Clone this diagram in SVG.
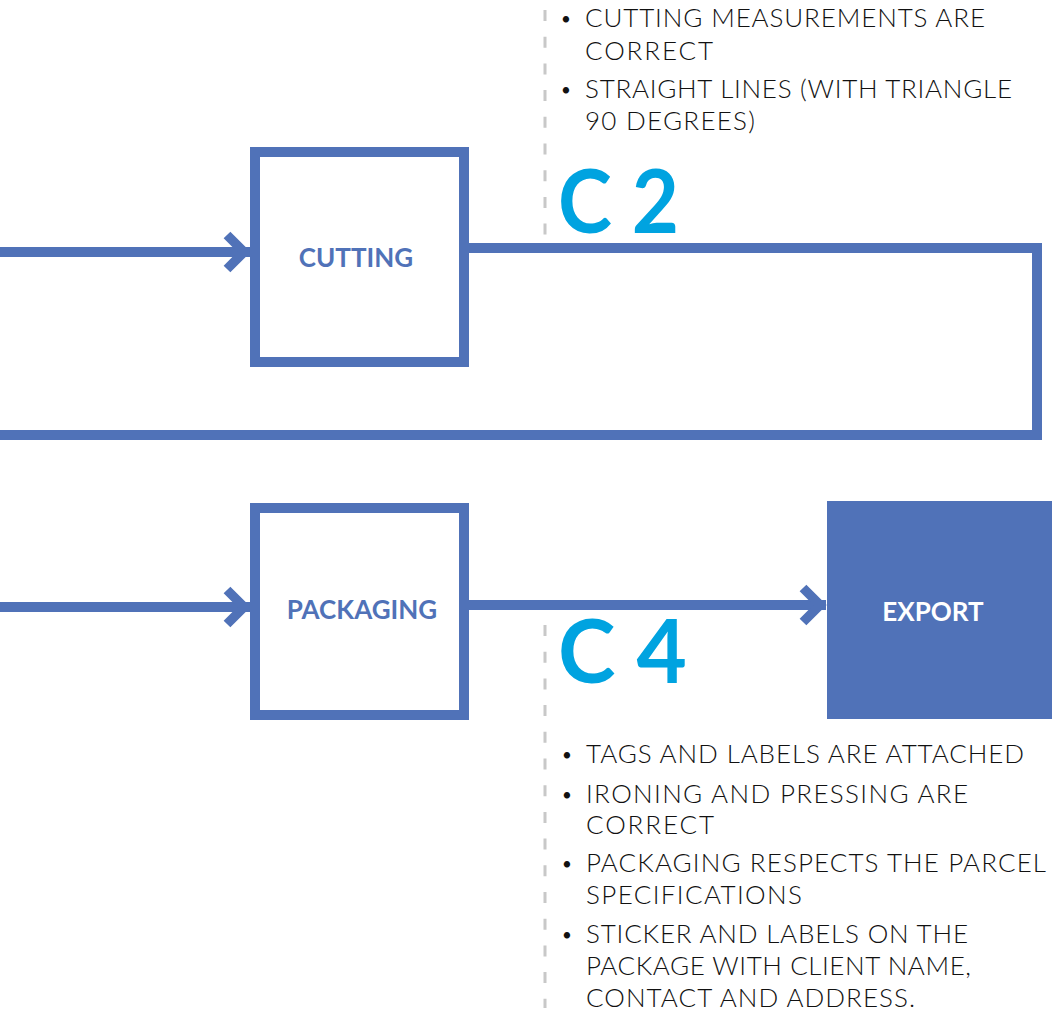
<svg xmlns="http://www.w3.org/2000/svg" width="1052" height="1012" viewBox="0 0 1052 1012">
<style>
.box{fill:#ffffff;stroke:#5072b8;stroke-width:10}
.fbox{fill:#5072b8}
.lbl{font-family:Lato,"Liberation Sans",sans-serif;font-weight:700;font-size:26px;fill:#5072b8;text-anchor:middle}
.lblw{font-family:Lato,"Liberation Sans",sans-serif;font-weight:700;font-size:26px;fill:#ffffff;text-anchor:middle}
.conn{fill:none;stroke:#5072b8;stroke-width:10;stroke-linejoin:miter}
.dash{fill:none;stroke:#c8c8c8;stroke-width:3;stroke-dasharray:11 15.7}
.code{font-family:Lato,"Liberation Sans",sans-serif;font-weight:700;font-size:88px;fill:#00a3e0}
.txt{font-family:Lato,"Liberation Sans",sans-serif;font-weight:300;font-size:26px;fill:#111111}
.bul{font-family:Lato,"Liberation Sans",sans-serif;font-weight:400;font-size:17px;fill:#111111}
</style>
<defs>
<marker id="chev" markerUnits="userSpaceOnUse" viewBox="-30 -25 35 50" refX="0" refY="0" markerWidth="35" markerHeight="50" orient="auto" overflow="visible">
<path d="M -23 -17 L -6 0 L -23 17" fill="none" stroke="#5072b8" stroke-width="9.5" stroke-linejoin="miter"/>
</marker>
</defs>

<g id="connectors">
<line class="conn" x1="0" y1="252" x2="250" y2="252" marker-end="url(#chev)"/>
<polyline class="conn" points="469,248 1037,248 1037,435 0,435"/>
<line class="conn" x1="0" y1="607" x2="250" y2="607" marker-end="url(#chev)"/>
<line class="conn" x1="469" y1="605" x2="826" y2="605" marker-end="url(#chev)"/>
</g>

<g id="cutting">
<rect class="box" x="255" y="152" width="209" height="210"/>
<text class="lbl" x="356" y="267">CUTTING</text>
</g>

<g id="packaging">
<rect class="box" x="255" y="508" width="209" height="207"/>
<text class="lbl" x="362" y="619">PACKAGING</text>
</g>

<g id="export">
<rect class="fbox" x="827" y="501" width="225" height="218"/>
<text class="lblw" x="933" y="621">EXPORT</text>
</g>

<g id="c2">
<line class="dash" x1="545" y1="10" x2="545" y2="235"/>
<text class="code" x="558" y="233" textLength="121" lengthAdjust="spacingAndGlyphs">C 2</text>
<text class="bul" x="561" y="25">•</text>
<text class="txt" x="585" y="27" textLength="400">CUTTING MEASUREMENTS ARE</text>
<text class="txt" x="585" y="60" textLength="128">CORRECT</text>
<text class="bul" x="561" y="96">•</text>
<text class="txt" x="585" y="98" textLength="427">STRAIGHT LINES (WITH TRIANGLE</text>
<text class="txt" x="585" y="130" textLength="170">90 DEGREES)</text>
</g>

<g id="c4">
<line class="dash" x1="545" y1="625" x2="545" y2="1008"/>
<text class="code" x="558" y="683" textLength="129" lengthAdjust="spacingAndGlyphs">C 4</text>
<text class="bul" x="562" y="761">•</text>
<text class="txt" x="586" y="763" textLength="438">TAGS AND LABELS ARE ATTACHED</text>
<text class="bul" x="562" y="801">•</text>
<text class="txt" x="586" y="803" textLength="382">IRONING AND PRESSING ARE</text>
<text class="txt" x="586" y="834" textLength="128">CORRECT</text>
<text class="bul" x="562" y="870">•</text>
<text class="txt" x="586" y="872" textLength="460">PACKAGING RESPECTS THE PARCEL</text>
<text class="txt" x="586" y="904" textLength="216">SPECIFICATIONS</text>
<text class="bul" x="562" y="941">•</text>
<text class="txt" x="586" y="943" textLength="382">STICKER AND LABELS ON THE</text>
<text class="txt" x="586" y="975" textLength="385">PACKAGE WITH CLIENT NAME,</text>
<text class="txt" x="586" y="1007" textLength="329">CONTACT AND ADDRESS.</text>
</g>
</svg>
